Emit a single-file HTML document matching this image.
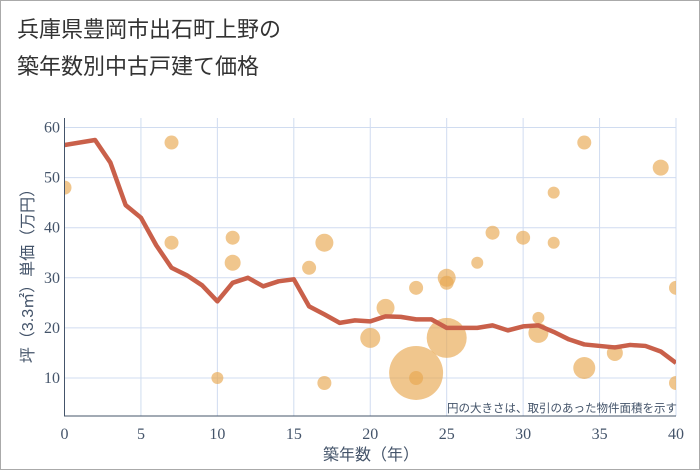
<!DOCTYPE html>
<html><head><meta charset="utf-8"><style>
body{margin:0;background:#fff;}
#wrap{position:relative;width:698px;height:468px;border:1px solid #aaa;background:#fff;font-family:"Liberation Sans","Noto Sans CJK JP",sans-serif;}
h1{position:absolute;left:16px;top:10px;margin:0;font-size:22px;font-weight:normal;line-height:37px;color:#333;}
svg{position:absolute;left:0;top:0;}
</style></head><body>
<div id="wrap">
<h1>兵庫県豊岡市出石町上野の<br>築年数別中古戸建て価格</h1>
<svg id="c" width="700" height="470"></svg>
</div>
<script>
const lineYears=[0,2,3,4,5,6,7,8,9,10,11,12,13,14,15,16,17,18,19,20,21,22,23,24,25,26,27,28,29,30,31,32,33,34,35,36,37,38,39,40];
const lineValues=[56.5,57.5,53,44.5,42,36.5,32,30.5,28.5,25.3,29,30,28.3,29.3,29.7,24.3,22.7,21,21.5,21.3,22.3,22.2,21.7,21.7,20,20,20,20.5,19.5,20.3,20.5,19.2,17.7,16.7,16.4,16.1,16.6,16.4,15.3,13];
const bubbleYears=[0,7,7,10,11,11,16,17,17,20,21,23,23,23,25,25,25,27,28,30,31,31,32,32,34,34,36,39,40,40];
const bubbleValues=[48,57,37,10,38,33,32,37,9,18,24,11,10,28,30,29,18,33,39,38,22,19,47,37,57,12,15,52,28,9];
const bubbleSizes=[7,7,7,6,7,8,7,9,7,10,9,27,7,7,9,7,20,6,7,7,6,10,6,6,7,11,8,8,7,7];
const xTicks=[0,5,10,15,20,25,30,35,40];
const yTicks=[10,20,30,40,50,60];
const NS="http://www.w3.org/2000/svg";
const svg=document.getElementById('c');
const L=63.5,R=675,T=117,B=415;
const sx=v=>L+(v-0)*(R-L)/40;
const sy=v=>377-(v-10)*5.01;
function mk(t,a){const e=document.createElementNS(NS,t);for(const k in a)e.setAttribute(k,a[k]);return e;}
const clip=mk('clipPath',{id:'pc'});clip.appendChild(mk('rect',{x:L,y:T,width:R-L,height:B-T}));svg.appendChild(clip);
const TF='"Liberation Serif",serif';
xTicks.forEach(t=>{
 const g=mk('line',{x1:sx(t),x2:sx(t),y1:T,y2:B,stroke:'#d0dcf0','stroke-width':1});
 
 
 svg.appendChild(g);
 const tx=mk('text',{x:sx(t),y:438,'text-anchor':'middle','font-size':16,'font-family':TF,fill:'#44546a'});tx.textContent=t;
 
 
 svg.appendChild(tx);
});
yTicks.forEach(t=>{
 const g=mk('line',{x1:L,x2:R,y1:sy(t),y2:sy(t),stroke:'#d0dcf0','stroke-width':1});
 
 
 svg.appendChild(g);
 const tx=mk('text',{x:59,y:sy(t)+5,'text-anchor':'end','font-size':16,'font-family':TF,fill:'#44546a'});tx.textContent=t;
 
 
 svg.appendChild(tx);
});
const bg=mk('g',{'clip-path':'url(#pc)'});svg.appendChild(bg);
bubbleYears.forEach((x,i)=>{
 const c=mk('circle',{cx:sx(x),cy:sy(bubbleValues[i]),r:bubbleSizes[i],fill:'#e8a850','fill-opacity':0.65});
 
 
 bg.appendChild(c);
});
const p=mk('polyline',{points:lineYears.map((x,i)=>sx(x)+','+sy(lineValues[i])).join(' '),fill:'none',stroke:'#c9604a','stroke-width':4.5,'stroke-linejoin':'round'});


bg.appendChild(p);
const ax=mk('path',{d:`M${L},${T} V${B} H${R}`,stroke:'#44546a',fill:'none','stroke-width':1});


svg.appendChild(ax);
const note=mk('text',{x:676,y:411,'text-anchor':'end','font-size':11.5,fill:'#44546a'});note.textContent='円の大きさは、取引のあった物件面積を示す';


svg.appendChild(note);
const xt=mk('text',{x:370,y:459,'text-anchor':'middle','font-size':16,fill:'#44546a'});xt.textContent='築年数（年）';


svg.appendChild(xt);
const yt=mk('text',{x:0,y:0,'text-anchor':'middle','font-size':16,fill:'#44546a',transform:'translate(32,271) rotate(-90)'});yt.textContent='坪（3.3㎡）単価（万円）';


svg.appendChild(yt);
</script>
</body></html>
